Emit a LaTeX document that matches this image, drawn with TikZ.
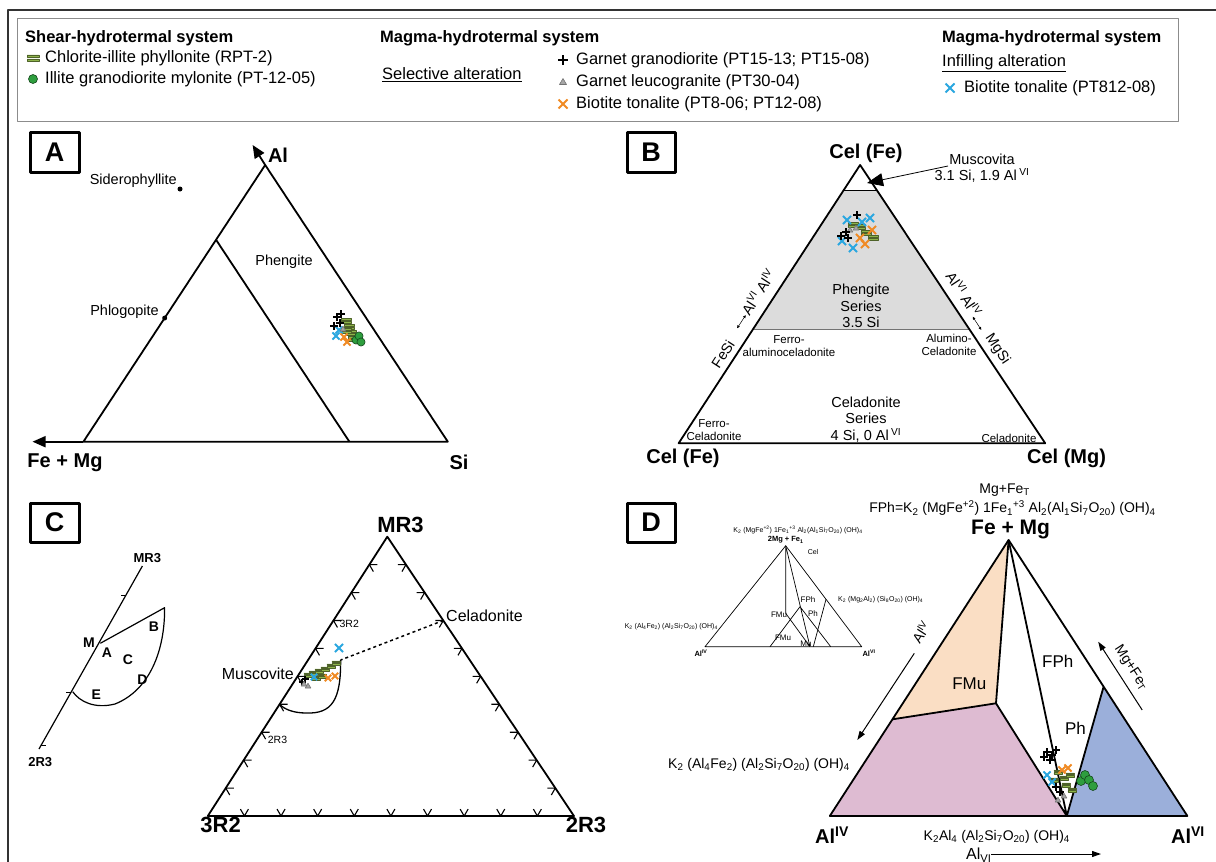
\documentclass[tikz,border=0pt]{standalone}
\usepackage{fontspec}
\setmainfont{Liberation Sans}
\usetikzlibrary{arrows.meta,calc}
\definecolor{peachD}{HTML}{FADEC4}
\definecolor{pinkD}{HTML}{DEBBD2}
\definecolor{blueD}{HTML}{9BAFDA}
\definecolor{grayB}{HTML}{DCDCDC}
\definecolor{orx}{HTML}{F08A24}
\definecolor{blx}{HTML}{2AA7E0}
\definecolor{grn}{HTML}{2E9E3E}
\definecolor{olv}{HTML}{8DB34A}
\definecolor{frm}{HTML}{333333}
\begin{document}
\begin{tikzpicture}[x=1pt,y=-1pt,line join=round,
  every node/.style={inner sep=0pt},
  tri/.style={line width=1.8pt},
  pbox/.style={line width=3pt},
  boxlet/.style={font=\fontsize{27}{27}\selectfont\bfseries},
  leg/.style={font=\fontsize{16.5}{19}\selectfont,anchor=west},
  legb/.style={font=\fontsize{16.5}{19}\selectfont\bfseries,anchor=west},
  vlab/.style={font=\fontsize{20}{22}\selectfont\bfseries},
  clab/.style={font=\fontsize{22}{24}\selectfont\bfseries},
  mlab/.style={font=\fontsize{14.5}{16.5}\selectfont,align=center},
  klab/.style={font=\fontsize{14}{16}\selectfont},
  flab/.style={font=\fontsize{17}{19}\selectfont},
  slab/.style={font=\fontsize{11.5}{13.3}\selectfont,align=center},
  tlab/.style={font=\fontsize{7}{8}\selectfont},
  tblab/.style={font=\fontsize{7.5}{8}\selectfont\bfseries},
  rlab/.style={font=\fontsize{10.5}{12}\selectfont},
  mini/.style={font=\fontsize{14}{16}\selectfont\bfseries},
  tick/.style={line width=1.1pt},
  bigtip/.style={-{Triangle[length=13pt,width=11pt]}},
  midtip/.style={-{Triangle[length=9pt,width=6pt]}},
  mplus/.pic={\draw[line width=1.6pt,black] (-5,0)--(5,0) (0,-5)--(0,5);},
  mtri/.pic={\filldraw[fill=black!35,draw=black!55,line width=0.6pt] (-3.5,2.5)--(3.5,2.5)--(0,-3.5)--cycle;},
  morx/.pic={\draw[line width=1.8pt,orx] (-4.5,-4.5)--(4.5,4.5) (-4.5,4.5)--(4.5,-4.5);},
  mblx/.pic={\draw[line width=1.8pt,blx] (-4.5,-4.5)--(4.5,4.5) (-4.5,4.5)--(4.5,-4.5);},
  mgeq/.pic={\filldraw[fill=olv,draw=olv!55!black,line width=0.5pt] (-6,-3.2) rectangle (6,-0.8) (-6,0.8) rectangle (6,3.2);},
  mgdot/.pic={\filldraw[fill=grn,draw=grn!45!black,line width=0.6pt] (0,0) circle (4.5);},
]
\useasboundingbox (0,0) rectangle (1216,862);
\fill[white] (0,0) rectangle (1216,862);
\draw[line width=2.5pt,frm] (8,862) -- (8,10) -- (1216,10);

% ---------------- legend
\draw[black!45,line width=1pt] (17,18) rectangle (1178,121);
\node[legb] (lh1) at (25,38) {Shear-hydrotermal system};
\pic at (33,58) {mgeq};
\node[leg] (l1) at (45,58) {Chlorite-illite phyllonite (RPT-2)};
\pic at (33,79) {mgdot};
\node[leg] (l2) at (45,79) {Illite granodiorite mylonite (PT-12-05)};
\node[legb] (lh2) at (380,38) {Magma-hydrotermal system};
\node[leg] (lsel) at (382,75) {\underline{Selective alteration}};
\pic at (563,60) {mplus};
\node[leg] (l3) at (576,60) {Garnet granodiorite (PT15-13; PT15-08)};
\pic at (563,82) {mtri};
\node[leg] (l4) at (576,82) {Garnet leucogranite (PT30-04)};
\pic at (563,104) {morx};
\node[leg] (l5) at (576,104) {Biotite tonalite (PT8-06; PT12-08)};
\node[legb] (lh3) at (942,38) {Magma-hydrotermal system};
\node[leg] (linf) at (942,63) {\underline{Infilling alteration}};
\pic at (950,88) {mblx};
\node[leg] (l6) at (964,88) {Biotite tonalite (PT812-08)};

% ---------------- panel A
\draw[pbox] (30,132) rectangle (79,172);
\node[boxlet] (bA) at (54.5,152) {A};
\coordinate (aT) at (265.2,165);
\coordinate (aL) at (83.4,441.7);
\coordinate (aR) at (447.8,441.7);
\coordinate (aTipL) at (32.5,441.7);
\coordinate (aTipT) at (252.6,145);
\draw[tri] (aL) -- (aT) -- (aR) -- cycle;
\draw[tri,bigtip] (aL) -- (aTipL);
\draw[tri,bigtip] (aT) -- (aTipT);
\coordinate (aI1) at (216.2,240);
\coordinate (aI2) at (349.4,441.7);
\draw[tri] (aI1) -- (aI2);
\node[vlab] (aAl) at (278,155) {Al};
\node[vlab] (aFM) at (65,463) {Fe + Mg};
\node[vlab] (aSi) at (459,462) {Si};
\node[mlab] (aPh) at (284,262) {Phengite};
\fill (180,189) circle (2.5);
\node[mlab,anchor=east] (aSid) at (177,181) {Siderophyllite};
\fill (164.7,318) circle (2.5);
\node[mlab,anchor=east] (aPhl) at (159,312) {Phlogopite};
\foreach \x/\y in {346/321,349/327,351/333,353/339,346/331} \pic[scale=0.8] at (\x,\y) {mgeq};
\foreach \x/\y in {336/336,339/330} \pic[scale=0.8] at (\x,\y) {mblx};
\foreach \x/\y in {347/342,344/337} \pic[scale=0.8] at (\x,\y) {morx};
\pic[scale=0.8] at (343,329) {mtri};
\foreach \x/\y in {337/317,334/326,341/314,340/323} \pic[scale=0.8] at (\x,\y) {mplus};
\foreach \x/\y in {356/340,359/336,361/342} \pic[scale=0.9] at (\x,\y) {mgdot};

% ---------------- panel B
\draw[pbox] (627,132) rectangle (675,172);
\node[boxlet] (bB) at (651,152) {B};
\coordinate (bT) at (860.1,165);
\coordinate (bL) at (678.6,443.3);
\coordinate (bR) at (1045.2,443.3);
\fill[grayB] (843.8,190) -- (876.7,190) -- (969.2,329) -- (753.1,329) -- cycle;
\draw[black!55,line width=1pt] (753.1,329) -- (969.2,329);
\draw[line width=1pt] (843.8,190) -- (876.7,190);
\draw[tri] (bL) -- (bT) -- (bR) -- cycle;
\node[vlab] (bTl) at (866,153) {Cel (Fe)};
\node[vlab] (bLl) at (683,458) {Cel (Fe)};
\node[vlab] (bRl) at (1066.6,458) {Cel (Mg)};
\node[mlab] (bMus) at (982,168) {Muscovita\\3.1 Si, 1.9 Al\,\textsuperscript{VI}};
\coordinate (bMs) at (948,166);
\coordinate (bMe) at (867,183);
\draw[line width=0.8pt,-{Triangle[length=16pt,width=13pt]}] (bMs) -- (bMe);
\node[mlab] (bPh) at (861,306) {Phengite\\Series\\3.5 Si};
\node[mlab] (bCe) at (866,419.5) {Celadonite\\Series\\4 Si, 0 Al\,\textsuperscript{VI}};
\node[slab] (bFa) at (789,346) {Ferro-\\aluminoceladonite};
\node[slab] (bAc) at (949,345) {Alumino-\\Celadonite};
\node[slab] (bFc) at (714,430) {Ferro-\\Celadonite};
\node[slab] (bCc) at (1009,438) {Celadonite};
\node[mlab,rotate=57] (bFeSi) at (723,354) {FeSi};
\draw[line width=0.5pt,{Latex[length=3pt,width=3pt]}-{Latex[length=3pt,width=3pt]}] (737,328.4) -- (745.8,315);
\node[mlab,rotate=57] (bAlL) at (758,292) {Al\textsuperscript{VI} Al\textsuperscript{IV}};
\node[mlab,rotate=-56.4] (bAlR) at (964,294) {Al\textsuperscript{VI} Al\textsuperscript{IV}};
\draw[line width=0.5pt,{Latex[length=3pt,width=3pt]}-{Latex[length=3pt,width=3pt]}] (972.6,316.6) -- (981.4,330);
\node[mlab,rotate=-56.4] (bMgSi) at (997.5,349) {MgSi};
\foreach \x/\y in {860/227,873/238,853/225,866/233} \pic[scale=0.8] at (\x,\y) {mgeq};
\foreach \x/\y in {847/220,870/218,842/241,853/248,862/222} \pic[scale=0.9] at (\x,\y) {mblx};
\foreach \x/\y in {860/238,872/230,865/244} \pic[scale=0.9] at (\x,\y) {morx};
\foreach \x/\y in {850/230,856/228} \pic[scale=0.8] at (\x,\y) {mtri};
\foreach \x/\y in {857/215,846/232,841/236,848/238} \pic[scale=0.8] at (\x,\y) {mplus};

% ---------------- panel C
\draw[pbox] (30,503) rectangle (79,542);
\node[boxlet] (bC) at (54.5,522.5) {C};
\coordinate (cT) at (387.3,536.7);
\coordinate (cL) at (207.8,816);
\coordinate (cR) at (574,816);
\draw[tri] (cL) -- (cT) -- (cR) -- cycle;
\foreach \i in {1,...,9}{
  \draw[tick] ($(cL)!\i/10!(cT)$) ++(8,0) -- ++(-8,0) -- ++(4,6.93);
  \draw[tick] ($(cR)!\i/10!(cT)$) ++(-8,0) -- ++(8,0) -- ++(-4,6.93);
  \draw[tick] ($(cL)!\i/10!(cR)$) ++(4,-6.93) -- ++(-4,6.93) -- ++(-4,-6.93);
}
\node[clab] (cTl) at (400.5,525) {MR3};
\node[clab] (cLl) at (220.6,825) {3R2};
\node[clab] (cRl) at (586,825) {2R3};
\node[rlab,anchor=west] (c3r2) at ($(cL)!0.7!(cT)+(6,3)$) {3R2};
\node[rlab,anchor=west] (c2r3) at ($(cL)!0.3!(cT)+(6,8)$) {2R3};
\coordinate (cCel) at ($(cR)!0.7!(cT)$);
\coordinate (cLoop) at (340.6,660);
\coordinate (cLend) at ($(cL)!0.4!(cT)$);
\draw[line width=1.5pt,dash pattern=on 3pt off 3pt] (cCel) -- (cLoop);
\draw[line width=1.3pt] (cLoop) .. controls (341,700) and (332,714) .. (306,713) .. controls (293,713) and (284,709) .. (cLend);
\node[font=\fontsize{16}{18}\selectfont,anchor=west] (cCl) at (446,616) {Celadonite};
\node[font=\fontsize{16}{18}\selectfont,anchor=east] (cMl) at (294,673.3) {Muscovite};
\foreach \x/\y in {308/675,313/673,319/671,325/669,331/666,336/663,316/678,322/676} \pic[scale=0.7] at (\x,\y) {mgeq};
\foreach \x/\y in {328/678,335/676} \pic[scale=0.7] at (\x,\y) {morx};
\pic[scale=0.7] at (314,677) {mblx};
\pic[scale=0.9] at (339,648) {mblx};
\foreach \x/\y in {302/682,305/679} \pic[scale=0.7] at (\x,\y) {mplus};
\foreach \x/\y in {308/686,304/684} \pic[scale=0.8] at (\x,\y) {mtri};
% mini diagram
\coordinate (mTop) at (142.4,566);
\coordinate (mBot) at (39,749);
\draw[line width=1.2pt] (mTop) -- (mBot);
\draw[tick] ($(mTop)!0.16!(mBot)$) -- ++(-5,0);
\draw[tick] ($(mTop)!0.69!(mBot)$) -- ++(-5,0);
\draw[tick] ($(mTop)!0.98!(mBot)$) -- ++(5,0);
\coordinate (mM) at (100.3,643.3);
\coordinate (mB) at (164.6,607.7);
\coordinate (mE) at (72.7,691.7);
\draw[line width=1.2pt] (mM) -- (mB) .. controls (165,650) and (150,690) .. (115,704) .. controls (95,709) and (80,702) .. (mE);
\node[font=\fontsize{13}{14}\selectfont\bfseries] (mT) at (147.3,558.3) {MR3};
\node[font=\fontsize{13}{14}\selectfont\bfseries] (mBl) at (40.2,761.7) {2R3};
\node[mini] at (89,642.7) {M};
\node[mini] at (107,653) {A};
\node[mini] at (128,660) {C};
\node[mini] at (154,626.7) {B};
\node[mini] at (142.4,679.3) {D};
\node[mini] at (96.4,694.3) {E};

% ---------------- panel D
\draw[pbox] (627,503) rectangle (675,542);
\node[boxlet] (bD) at (651,522.5) {D};
\coordinate (dA) at (1008.6,540);
\coordinate (dL) at (829.8,816);
\coordinate (dR) at (1187.4,816);
\coordinate (dP) at (1066.8,816);
\coordinate (dQ) at (892.5,719.3);
\coordinate (dS) at (996,703.3);
\coordinate (dT) at (1103.6,686.7);
\fill[peachD] (dA) -- (dQ) -- (dS) -- cycle;
\fill[pinkD] (dQ) -- (dS) -- (dP) -- (dL) -- cycle;
\fill[blueD] (dP) -- (dT) -- (dR) -- cycle;
\draw[tri] (dQ) -- (dS) -- (dA) (dS) -- (dP) (dA) -- (dP) (dT) -- (dP);
\draw[tri] (dL) -- (dA) -- (dR) -- cycle;
\node[klab] (dMg) at (1004.7,490) {Mg+Fe\textsubscript{T}};
\node[klab] (dFPh) at (1012.5,508.3) {FPh=K\textsubscript{2} (MgFe\textsuperscript{+2}) 1Fe\textsubscript{1}\textsuperscript{+3} Al\textsubscript{2}(Al\textsubscript{1}Si\textsubscript{7}O\textsubscript{20}) (OH)\textsubscript{4}};
\node[font=\fontsize{21}{23}\selectfont\bfseries] (dTop) at (1010.6,529.5) {Fe + Mg};
\node[flab] (dFMu) at (969.3,683.3) {FMu};
\node[flab] (dFPl) at (1057.7,661.7) {FPh};
\node[flab] (dPh) at (1075.4,728.3) {Ph};
\node[vlab] (dAl4) at (832,835) {Al\textsuperscript{IV}};
\node[vlab] (dAl6) at (1188,835) {Al\textsuperscript{VI}};
\node[klab] (dK1) at (996.8,836.7) {K\textsubscript{2}Al\textsubscript{4} (Al\textsubscript{2}Si\textsubscript{7}O\textsubscript{20}) (OH)\textsubscript{4}};
\node[klab] (dK2) at (759,765) {K\textsubscript{2} (Al\textsubscript{4}Fe\textsubscript{2}) (Al\textsubscript{2}Si\textsubscript{7}O\textsubscript{20}) (OH)\textsubscript{4}};
\node[font=\fontsize{16}{18}\selectfont,anchor=west] (dAlb) at (966,855) {Al\textsubscript{VI}};
\coordinate (dAr1) at (991,854);
\coordinate (dAr2) at (1101,854);
\draw[line width=1pt,midtip] (dAr1) -- (dAr2);
\coordinate (dB1) at (914.3,653.3);
\coordinate (dB2) at (857.3,740);
\draw[line width=1pt,midtip] (dB1) -- (dB2);
\node[klab,rotate=57] (dAlr) at (921,632) {Al\textsuperscript{IV}};
\coordinate (dC1) at (1142.2,710);
\coordinate (dC2) at (1098.2,641.7);
\draw[line width=1pt,midtip] (dC1) -- (dC2);
\node[klab,rotate=-57] (dMgr) at (1131,668) {Mg+Fe\textsubscript{T}};
\foreach \x/\y in {1058/772,1064/778,1070/775,1066/785,1072/790,1054/780} \pic[scale=0.7] at (\x,\y) {mgeq};
\foreach \x/\y in {1047/775,1052/782} \pic[scale=0.8] at (\x,\y) {mblx};
\foreach \x/\y in {1068/768,1062/770} \pic[scale=0.8] at (\x,\y) {morx};
\foreach \x/\y in {1064/796,1058/800} \pic[scale=0.8] at (\x,\y) {mtri};
\foreach \x/\y in {1047/752,1052/755,1056/750,1050/760,1044/757,1060/792,1056/787} \pic[scale=0.8] at (\x,\y) {mplus};
\foreach \x/\y in {1081/781,1085/775,1089/780,1093/786} \pic at (\x,\y) {mgdot};
% inset
\coordinate (ia) at (785.7,545.7);
\coordinate (il) at (705,646.7);
\coordinate (ir) at (861.7,646.7);
\coordinate (iv) at (785.7,613.3);
\coordinate (imu) at (810,646.7);
\coordinate (is1) at (770,646.7);
\coordinate (is2) at (800,606.7);
\coordinate (is3) at (830.7,646.7);
\coordinate (ip1) at (826,599.3);
\coordinate (ip2) at (813.3,646.7);
\draw[line width=0.7pt] (il) -- (ia) -- (ir) -- cycle;
\draw[line width=0.7pt] (ia) -- (iv) -- (imu) (ia) -- (imu) (is1) -- (is2) -- (is3) (ip1) -- (ip2);
\node[tlab] (it1) at (798,530) {K\textsubscript{2} (MgFe\textsuperscript{+2}) 1Fe\textsubscript{1}\textsuperscript{+3} Al\textsubscript{2}(Al\textsubscript{1}Si\textsubscript{7}O\textsubscript{20}) (OH)\textsubscript{4}};
\node[tblab] (it2) at (785.7,540) {2Mg + Fe\textsubscript{1}};
\node[tlab] (it3) at (813,551.7) {Cel};
\node[font=\fontsize{8}{9}\selectfont] at (779,615) {FMu};
\node[font=\fontsize{8}{9}\selectfont] at (808,599.3) {FPh};
\node[font=\fontsize{8}{9}\selectfont] at (813,614) {Ph};
\node[font=\fontsize{8}{9}\selectfont] at (783,637.3) {FMu};
\node[font=\fontsize{8}{9}\selectfont] at (806,644) {Mu};
\node[tlab,anchor=west] (it4) at (838,600) {K\textsubscript{2} (Mg\textsubscript{2}Al\textsubscript{2}) (Si\textsubscript{8}O\textsubscript{20}) (OH)\textsubscript{4}};
\node[tlab,anchor=east] (it5) at (718,626.7) {K\textsubscript{2} (Al\textsubscript{4}Fe\textsubscript{2}) (Al\textsubscript{2}Si\textsubscript{7}O\textsubscript{20}) (OH)\textsubscript{4}};
\node[tblab] at (701,652.7) {Al\textsuperscript{IV}};
\node[tblab] at (869,652.7) {Al\textsuperscript{VI}};
\end{tikzpicture}
\end{document}
